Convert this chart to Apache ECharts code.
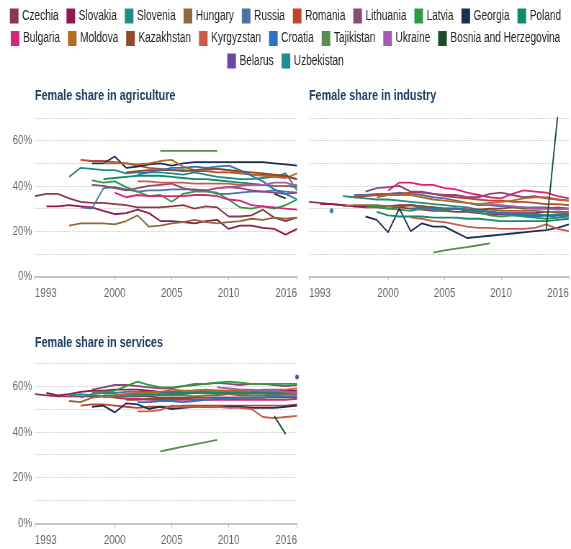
<!DOCTYPE html>
<html>
<head>
<meta charset="utf-8">
<title>Female share by sector</title>
<script src="https://cdn.jsdelivr.net/npm/echarts@6/dist/echarts.min.js"></script>
<style>
    html, body { margin: 0; padding: 0; background: #fff; overflow: hidden; width: 571px; height: 549px; }
    /* the original uses a condensed face; draw wide and squeeze to get the same proportions */
    #chart { width: 793px; height: 549px; transform: scaleX(0.72); transform-origin: 0 0; }
</style>
</head>
<body>
<div id="chart"></div>
<script>
const _ = null;
const years = [1993,1994,1995,1996,1997,1998,1999,2000,2001,2002,2003,2004,2005,2006,2007,2008,2009,2010,2011,2012,2013,2014,2015,2016];
const tickYears = [1993, 2000, 2005, 2010, 2016];
const pctTicks = [0, 20, 40, 60];

const names = ['Czechia','Slovakia','Slovenia','Hungary','Russia','Romania','Lithuania','Latvia','Georgia','Poland',
    'Bulgaria','Moldova','Kazakhstan','Kyrgyzstan','Croatia','Tajikistan','Ukraine','Bosnia and Herzegovina',
    'Belarus','Uzbekistan'];
const colors = ['#8b3a4b','#8e1a52','#1f8e88','#8e6a3e','#4d72a6','#c1442c','#8c4777','#2f9a41','#1b2f5a','#138a6b',
    '#d82479','#b76a25','#904a2b','#cb5a4a','#2a72c3','#5a8c4f','#a35cb1','#1b4c24','#6a46a8','#1d8a9a'];
const legendRow1 = ['Czechia','Slovakia','Slovenia','Hungary','Russia','Romania','Lithuania','Latvia','Georgia','Poland'];
const legendRow2 = ['Bulgaria','Moldova','Kazakhstan','Kyrgyzstan','Croatia','Tajikistan','Ukraine','Bosnia and Herzegovina'];
const legendRow3 = ['Belarus','Uzbekistan'];

// agriculture, % female, 1993..2016
const agrCzechia    = [35.5,36.5,36.5,34.5,33,32.5,32.5,32,31.5,30.5,30.5,30.5,31,31.5,30,31,30.5,26.5,26.5,27,29.5,26,24.5,26];
const agrSlovakia   = [_,31,31,31.5,31,30.5,29,27.5,28,29.5,28,24.5,24.5,24,23.5,24.5,25,21,22.5,22.5,21.5,21,18.5,21];
const agrSlovenia   = [_,_,_,44,48,47.5,47,47,45.5,46,46,46,45.5,45,46,45,44,43.5,43,43,43.5,44,45.5,38];
const agrHungary    = [_,_,_,22.5,23.5,23.5,23.5,23,24.5,27,22,22.5,23.5,24,25,24,23.5,24,24.5,25.5,25,26,25.5,26];
const agrRussia     = [_,_,_,_,30.5,30,39,39.5,38.5,37.5,38,38,38.5,38.5,38.5,38,36.5,36.5,37,37.5,37.5,38,37.5,37];
const agrRomania    = [_,_,_,_,51.5,51,51,50.5,50,49,48,47.5,47,47,46.5,46.5,46,46,45.5,45,45,44.5,44,43];
const agrLithuania  = [_,_,_,_,_,40.5,40,39,38,39,40,40.5,41,39,38,38,39,39.5,39,38,37.5,37,36.5,37];
const agrLatvia     = [_,_,_,_,_,42.5,41.5,42,39.5,37.5,35.5,36,33,36.5,37.5,37.5,37,34,30.5,30,31,30,31.5,34];
const agrGeorgia    = [_,_,_,_,_,50,50,53,48,48.5,49.5,50,49,50,50.5,50.5,50.5,50.5,50.5,50.5,50.5,50,49.5,49];
const agrPoland     = [_,_,_,_,_,_,43,43.5,44,44.5,44.5,44.5,44,43.5,43,43,42.5,42,41.5,41,40.5,40,40,39.5];
const agrBulgaria   = [_,_,_,_,_,_,_,37,35,36,35.5,35.5,35.5,35.5,36,36,35.5,34,33.5,31.5,31,30.5,30,29.5];
const agrMoldova    = [_,_,_,_,_,_,50,50,50,49.5,50,51,51.5,48.5,47,47,47.5,47,46,45,44.5,44,43.5,45.5];
const agrKazakhstan = [_,_,_,_,_,_,_,_,46,46.5,47,47,47,46.5,47,47.5,47.5,47,46.5,46,45.5,45,44.5,43];
const agrKyrgyzstan = [_,_,_,_,_,_,_,_,_,42,42,41.5,41.5,41.5,41,41,41,41,40.5,40.5,40.5,40,40,40.5];
const agrCroatia    = [_,_,_,_,_,_,_,_,_,45,46,47,48,48,48.5,48,48.5,49,47,44.5,42,38.5,36.5,34];
const agrTajikistan = [_,_,_,_,_,_,_,_,_,_,_,55.5,55.5,55.5,55.5,55.5,55.5,_,_,_,_,_,_,_];
const agrUkraine    = [_,_,_,_,_,_,_,_,_,_,_,_,_,_,_,_,39,39.5,40,40.5,40.5,41.5,41.5,40];
const agrBosnia     = [_,_,_,_,_,_,_,_,_,_,_,_,_,_,_,_,_,_,_,_,_,36.5,34.5,_];
const agrBelarus    = [];
const agrUzbekistan = [];

// industry
const indCzechia    = [33,32.5,32,31.5,31,30.5,30.5,30,30.5,30,29.5,29,29,28.5,28.5,28,27.5,27.5,27.5,27,27,27,27,27.5];
const indSlovakia   = [_,32,32,31.5,31,31,31,31,31.5,31.5,31,30.5,30,30,29.5,29,28.5,28,28,28,28,28.5,28.5,28.5];
const indSlovenia   = [_,_,_,35.5,35,34.5,34,34,33.5,33,32.5,32,31.5,31,30.5,29.5,28.5,28,27.5,27.5,27.5,27,27.5,28];
const indHungary    = [_,_,_,31,31.5,31.5,31.5,31,31,31.5,31,30.5,30,30,29.5,29.5,29.5,29,29,29,29,28.5,28.5,28.5];
const indRussia     = [_,_,_,_,36,36,36.5,36.5,37,36.5,36,35,34.5,33.5,32.5,31.5,31.5,31,31,30.5,30.5,30.5,30,30];
const indRomania    = [_,_,_,_,35,35.5,36,36,36.5,37,37,36.5,35.5,35,34.5,34,33.5,33.5,33,33,32.5,32,32,31.5];
const indLithuania  = [_,_,_,_,_,37.5,39,39.5,40,37.5,37.5,36.5,36,36,35,35,36.5,37,36,35,35.5,34.5,34,33.5];
const indLatvia     = [_,_,_,_,_,30.5,31,30,29.5,29,30,29.5,29,30,29,28.5,27,26.5,27,26.5,26,25.5,26,26.5];
const indGeorgia    = [_,_,_,_,_,26.5,25,19.5,30,20,23.5,22,22,19.5,17,17.5,18,18.5,19,19.5,20,20.5,21.5,23];
const indPoland     = [_,_,_,_,_,_,28.5,27,26.5,26.5,26.5,26,26,26,25.5,25.5,25,24.5,24.5,24.5,24.5,24.5,25,25.5];
const indBulgaria   = [_,_,_,_,_,_,_,38,41.5,41.5,40.5,40.5,39,38.5,37,36,35,34.5,36.5,38,37.5,37,35.5,34.5];
const indMoldova    = [_,_,_,_,_,_,35,36,36,36,35,34,33.5,33,32.5,32,32.5,33,33.5,34.5,35,35,34,33.5];
const indKazakhstan = [_,_,_,_,_,_,_,_,31,31.5,31,30.5,30,30,29.5,29.5,30,30,30.5,30,30,30,30.5,30];
const indKyrgyzstan = [_,_,_,_,_,_,_,_,_,26,25.5,24.5,24,23,22,21.5,21.5,21,21,21,21.5,23,21,20];
const indCroatia    = [_,_,_,_,_,_,_,_,_,30,30.5,30,29.5,30,29.5,29,28.5,28,27.5,27,26.5,27,26,27];
const indTajikistan = [_,_,_,_,_,_,_,_,_,_,_,10.5,11.5,12.3,13,13.8,14.6,_,_,_,_,_,_,_];
const indUkraine    = [_,_,_,_,_,_,_,_,_,_,_,_,_,_,_,_,32,31.5,31,30.5,30,30,29.5,30];
const indBosnia     = [_,_,_,_,_,_,_,_,_,_,_,_,_,_,_,_,_,_,_,_,_,21,70.5,_];
const indBelarus    = [];
const indUzbekistan = [_,_,29];

// services
const serCzechia    = [56.5,56,55.5,55.5,55.5,55.5,55.5,55.5,55.5,55.5,55.5,55,55,55,55,55,55,55,55,55,55,55.5,55.5,55.5];
const serSlovakia   = [_,57,56,56.5,57.5,58,58,58.5,58.5,58.5,58,57.5,57,57.5,58,58,58,57.5,58,58,58,58,58,58];
const serSlovenia   = [_,_,_,56,56.5,56,55.5,55,55.5,56,56,56.5,56,56.5,57,57,56.5,56.5,56,56,56,56.5,56.5,56.5];
const serHungary    = [_,_,_,53.5,53,55,55.5,56,56,56,56.5,56,56,56,55.5,56,56,56.5,56.5,56,56,56,56.5,56.5];
const serRussia     = [_,_,_,_,55,56.5,57,57,57.5,57.5,57.5,57.5,57.5,57.5,58,58,58,58,58,58,58,58,57.5,57.5];
const serRomania    = [_,_,_,_,51.5,52,52,51.5,51,50.5,51,51,51,51.5,51.5,51.5,51.5,51.5,51.5,51.5,51.5,51.5,51.5,52];
const serLithuania  = [_,_,_,_,_,58.5,59.5,60.5,60.5,60,59.5,59,59,60,60.5,61,61.5,61,60.5,61,61,60.5,60,60.5];
const serLatvia     = [_,_,_,_,_,57,57.5,58,60,62,60.5,59.5,59.5,60,61,61,61.5,62,61.5,61,61,61,61,61];
const serGeorgia    = [_,_,_,_,_,51,51.5,48.5,52.5,52,50,51,50,50.5,51,51,51,51,51,50.5,50.5,50.5,51,51.5];
const serPoland     = [_,_,_,_,_,_,56,56,56.5,56.5,56.5,56.5,56.5,57,57,57,57,57,57,57,57,57,57,57];
const serBulgaria   = [_,_,_,_,_,_,_,55,54.5,54.5,54,54,54,54,54,54,54,54,54,54,54,54,54,54.5];
const serMoldova    = [_,_,_,_,_,_,55,56,56.5,57,57,57.5,58.5,58,58,58.5,58,58,58,58,58.5,58.5,58.5,59];
const serKazakhstan = [_,_,_,_,_,_,_,_,54,54,54.5,54.5,54.5,54.5,55,55,55,55,55,55,55,55,55,55];
const serKyrgyzstan = [_,_,_,_,_,_,_,_,_,49,49,49.5,51.5,51,51,51,51,50.5,50.5,50,46.5,46,46.5,47];
const serCroatia    = [_,_,_,_,_,_,_,_,_,53,53,53.5,53.5,53,53.5,54,54.5,54.5,55,55,55,55.5,55.5,55.5];
const serTajikistan = [_,_,_,_,_,_,_,_,_,_,_,31.5,32.5,33.5,34.5,35.5,36.5,_,_,_,_,_,_,_];
const serUkraine    = [_,_,_,_,_,_,_,_,_,_,_,_,_,_,_,_,59.5,59,58.5,58.5,58,58,57.5,57];
const serBosnia     = [_,_,_,_,_,_,_,_,_,_,_,_,_,_,_,_,_,_,_,_,_,47,39,_];
const serBelarus    = [_,_,_,_,_,_,_,_,_,_,_,_,_,_,_,_,_,_,_,_,_,_,_,64];
const serUzbekistan = [];

const FONT = "'Liberation Sans', Arial, sans-serif";
const SQ = 0.72;                 // same as the css scaleX
const px = function (x) { return x / SQ; };

const panels = [
    {title: 'Female share in agriculture', left: px(35), top: 118, height: 158.5, titleTop: 88, yLabels: true,
     data: [agrCzechia,agrSlovakia,agrSlovenia,agrHungary,agrRussia,agrRomania,agrLithuania,agrLatvia,agrGeorgia,agrPoland,
            agrBulgaria,agrMoldova,agrKazakhstan,agrKyrgyzstan,agrCroatia,agrTajikistan,agrUkraine,agrBosnia,agrBelarus,agrUzbekistan]},
    {title: 'Female share in industry', left: px(309), top: 118, height: 158.5, titleTop: 88, yLabels: false,
     data: [indCzechia,indSlovakia,indSlovenia,indHungary,indRussia,indRomania,indLithuania,indLatvia,indGeorgia,indPoland,
            indBulgaria,indMoldova,indKazakhstan,indKyrgyzstan,indCroatia,indTajikistan,indUkraine,indBosnia,indBelarus,indUzbekistan]},
    {title: 'Female share in services', left: px(35), top: 363.3, height: 160, titleTop: 335, yLabels: true,
     data: [serCzechia,serSlovakia,serSlovenia,serHungary,serRussia,serRomania,serLithuania,serLatvia,serGeorgia,serPoland,
            serBulgaria,serMoldova,serKazakhstan,serKyrgyzstan,serCroatia,serTajikistan,serUkraine,serBosnia,serBelarus,serUzbekistan]}
];

// lone values get a dot, everything else is a plain line
function toPoints(values) {
    return years.map(function (yr, i) {
        const v = values[i] == null ? null : values[i];
        if (v === null) return [yr, null];
        const prev = i > 0 ? values[i - 1] : null;
        const next = values[i + 1];
        if (prev == null && next == null) {
            return {value: [yr, v], symbol: 'circle', symbolSize: 5};
        }
        return [yr, v];
    });
}

const series = [];
panels.forEach(function (p, gi) {
    p.data.forEach(function (vals, ci) {
        series.push({
            name: names[ci],
            type: 'line',
            xAxisIndex: gi,
            yAxisIndex: gi,
            data: toPoints(vals),
            symbol: 'none',
            showSymbol: true,
            connectNulls: false,
            lineStyle: {width: 1.8, color: colors[ci]},
            itemStyle: {color: colors[ci]},
            emphasis: {disabled: true}
        });
    });
});

const legendRows = [legendRow1, legendRow2, legendRow3];
const legendTops = [8.5, 31, 53.5];

const option = {
    animation: false,
    color: colors,
    textStyle: {fontFamily: FONT},
    title: panels.map(function (p) {
        return {
            text: p.title, left: p.left, top: p.titleTop, padding: 0,
            textStyle: {fontFamily: FONT, fontSize: 15, fontWeight: 'bold', color: '#1d3c61'}
        };
    }),
    legend: legendRows.map(function (row, i) {
        return {
            data: row, top: legendTops[i], left: 'center', padding: [0, 0, 0, 12],
            icon: 'rect', itemWidth: 12, itemHeight: 15, itemGap: 11,
            textStyle: {fontFamily: FONT, fontSize: 14, color: '#222'}
        };
    }),
    grid: panels.map(function (p) {
        return {left: p.left, top: p.top, width: px(262), height: p.height, containLabel: false};
    }),
    xAxis: panels.map(function (p, i) {
        return {
            type: 'value', gridIndex: i, min: 1993, max: 2016, position: 'bottom',
            axisLine: {onZero: false, lineStyle: {color: '#b8b8b8', width: 1.5}},
            axisTick: {show: true, inside: false, customValues: tickYears, length: 4, lineStyle: {color: '#b8b8b8'}},
            axisLabel: {
                inside: false, customValues: tickYears, color: '#666', fontSize: 13.5, fontFamily: FONT, margin: 10,
                alignMinLabel: 'left', alignMaxLabel: 'right',
                formatter: function (v) { return String(v); }
            },
            splitLine: {show: false}
        };
    }),
    yAxis: panels.map(function (p, i) {
        return {
            type: 'value', gridIndex: i, min: 0, max: 70, interval: 10,
            axisLine: {show: false},
            axisTick: {show: false},
            axisLabel: {
                show: p.yLabels, customValues: pctTicks, color: '#666', fontSize: 13.5, fontFamily: FONT, margin: 4,
                formatter: '{value}%'
            },
            splitLine: {lineStyle: {type: [2, 2], color: '#c8c8c8'}}
        };
    }),
    series: series
};

const chart = echarts.init(document.getElementById('chart'));
chart.setOption(option);
</script>
</body>
</html>
